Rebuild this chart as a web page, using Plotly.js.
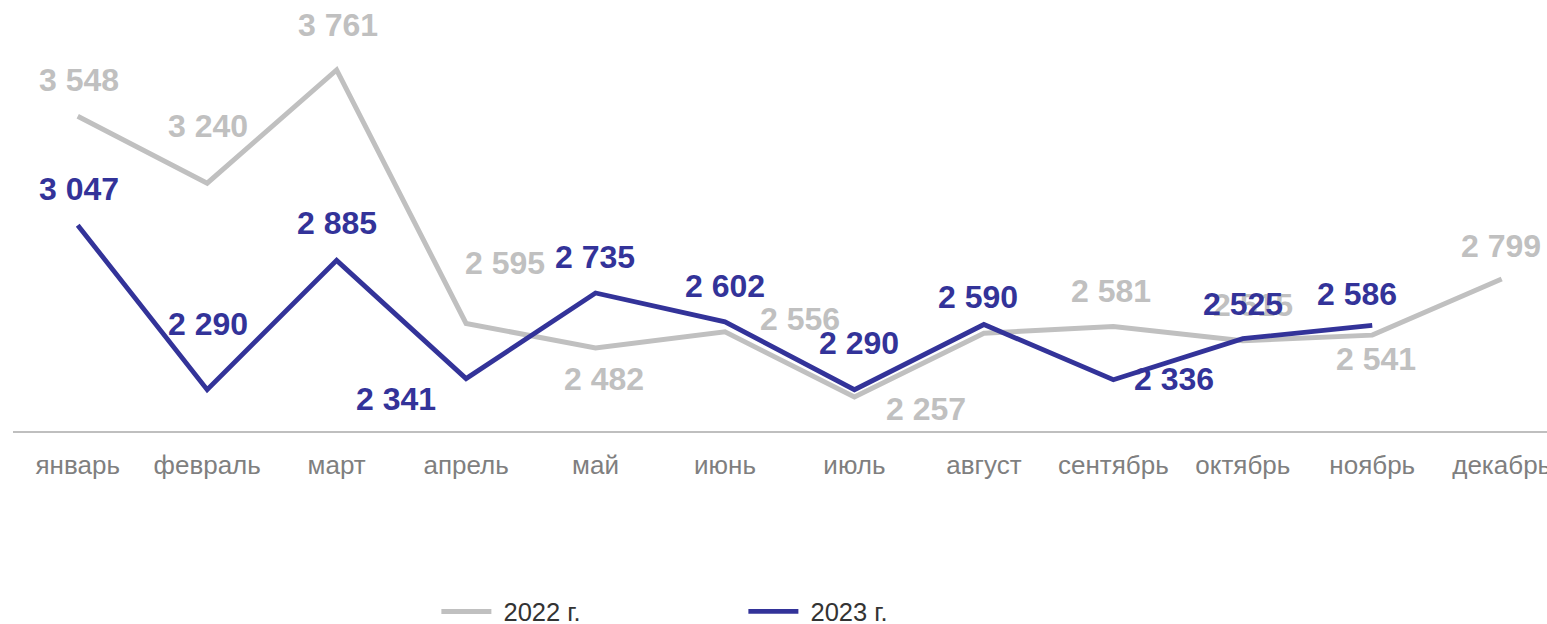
<!DOCTYPE html>
<html>
<head>
<meta charset="utf-8">
<script src="https://cdn.plot.ly/plotly-3.0.1.min.js"></script>
<style>html,body{margin:0;padding:0;background:#fff;overflow:hidden}#chart{width:1547px;height:624px}</style>
</head>
<body>
<div id="chart"></div>
<script>
// ---- data ----
var months = ["январь","февраль","март","апрель","май","июнь","июль","август","сентябрь","октябрь","ноябрь","декабрь"];
var values2022 = [3548, 3240, 3761, 2595, 2482, 2556, 2257, 2550, 2581, 2515, 2541, 2799];
var values2023 = [3047, 2290, 2885, 2341, 2735, 2602, 2290, 2590, 2336, 2525, 2586, null];
var seriesNames = ["2022 г.", "2023 г."];
// which data labels are visible (2022 August label is hidden behind the 2023 one)
var show2022 = [true, true, true, true, true, true, true, false, true, true, true, true];
var show2023 = [true, true, true, true, true, true, true, true, true, true, true, false];

// ---- styles (label offsets in px relative to the point) ----
var grey = "#c0c0c0", blue = "#333399";
var off2022 = [[1,36],[1,57],[1,45],[39,60],[8,-31],[75,13],[72,-12],[0,35],[-2,35],[10,36],[4,-24],[-1,33]];
var off2023 = [[1,36],[1,66],[0,37],[-70,-20],[-1,36],[0,36],[5,47],[-6,27],[61,1],[0,35],[-15,31],[0,0]];

function fmt(v){ return String(v).replace(/\B(?=(\d{3})+(?!\d))/g, "\u00a0"); }

var annotations = [];
function addLabels(vals, show, offs, color){
  vals.forEach(function(v,i){
    if (v === null || !show[i]) return;
    annotations.push({x: months[i], y: v, xref:"x", yref:"y", text: fmt(v), showarrow:false,
      xshift: offs[i][0], yshift: offs[i][1],
      font:{family:"Liberation Sans, Arial, sans-serif", size:32, color: color, weight: "bold"}});
  });
}
addLabels(values2022, show2022, off2022, grey);
addLabels(values2023, show2023, off2023, blue);

var traces = [
  {x: months, y: values2022, name: "\u00a0" + seriesNames[0], type:"scatter", mode:"lines",
   line:{color: grey, width: 5}, hoverinfo:"skip"},
  {x: months, y: values2023, name: "\u00a0" + seriesNames[1], type:"scatter", mode:"lines",
   line:{color: blue, width: 4.8}, hoverinfo:"skip", connectgaps:false}
];

var layout = {
  width: 1547, height: 624,
  margin: {l: 13, r: 0, t: 18, b: 193, autoexpand: false},
  paper_bgcolor: "#fff", plot_bgcolor: "#fff",
  font: {family: "Liberation Sans, Arial, sans-serif"},
  showlegend: true,
  legend: {orientation: "h", x: 0.276, xanchor: "left", y: -0.438, yanchor: "middle",
    itemwidth: 50, entrywidth: 242, entrywidthmode: "pixels",
    font: {size: 25.5, color: "#333333"}},
  xaxis: {type: "category", range: [-0.5, 11.35], showgrid: false, zeroline: false,
    showline: true, linecolor: "#bfbfbf", linewidth: 2, ticks: "", ticklabelstandoff: 10,
    tickfont: {size: 26, color: "#7f7f7f"}, fixedrange: true},
  yaxis: {range: [2100, 4000], visible: false, showgrid: false, zeroline: false, fixedrange: true},
  annotations: annotations
};

Plotly.newPlot("chart", traces, layout, {displayModeBar: false, staticPlot: true});
</script>
</body>
</html>
